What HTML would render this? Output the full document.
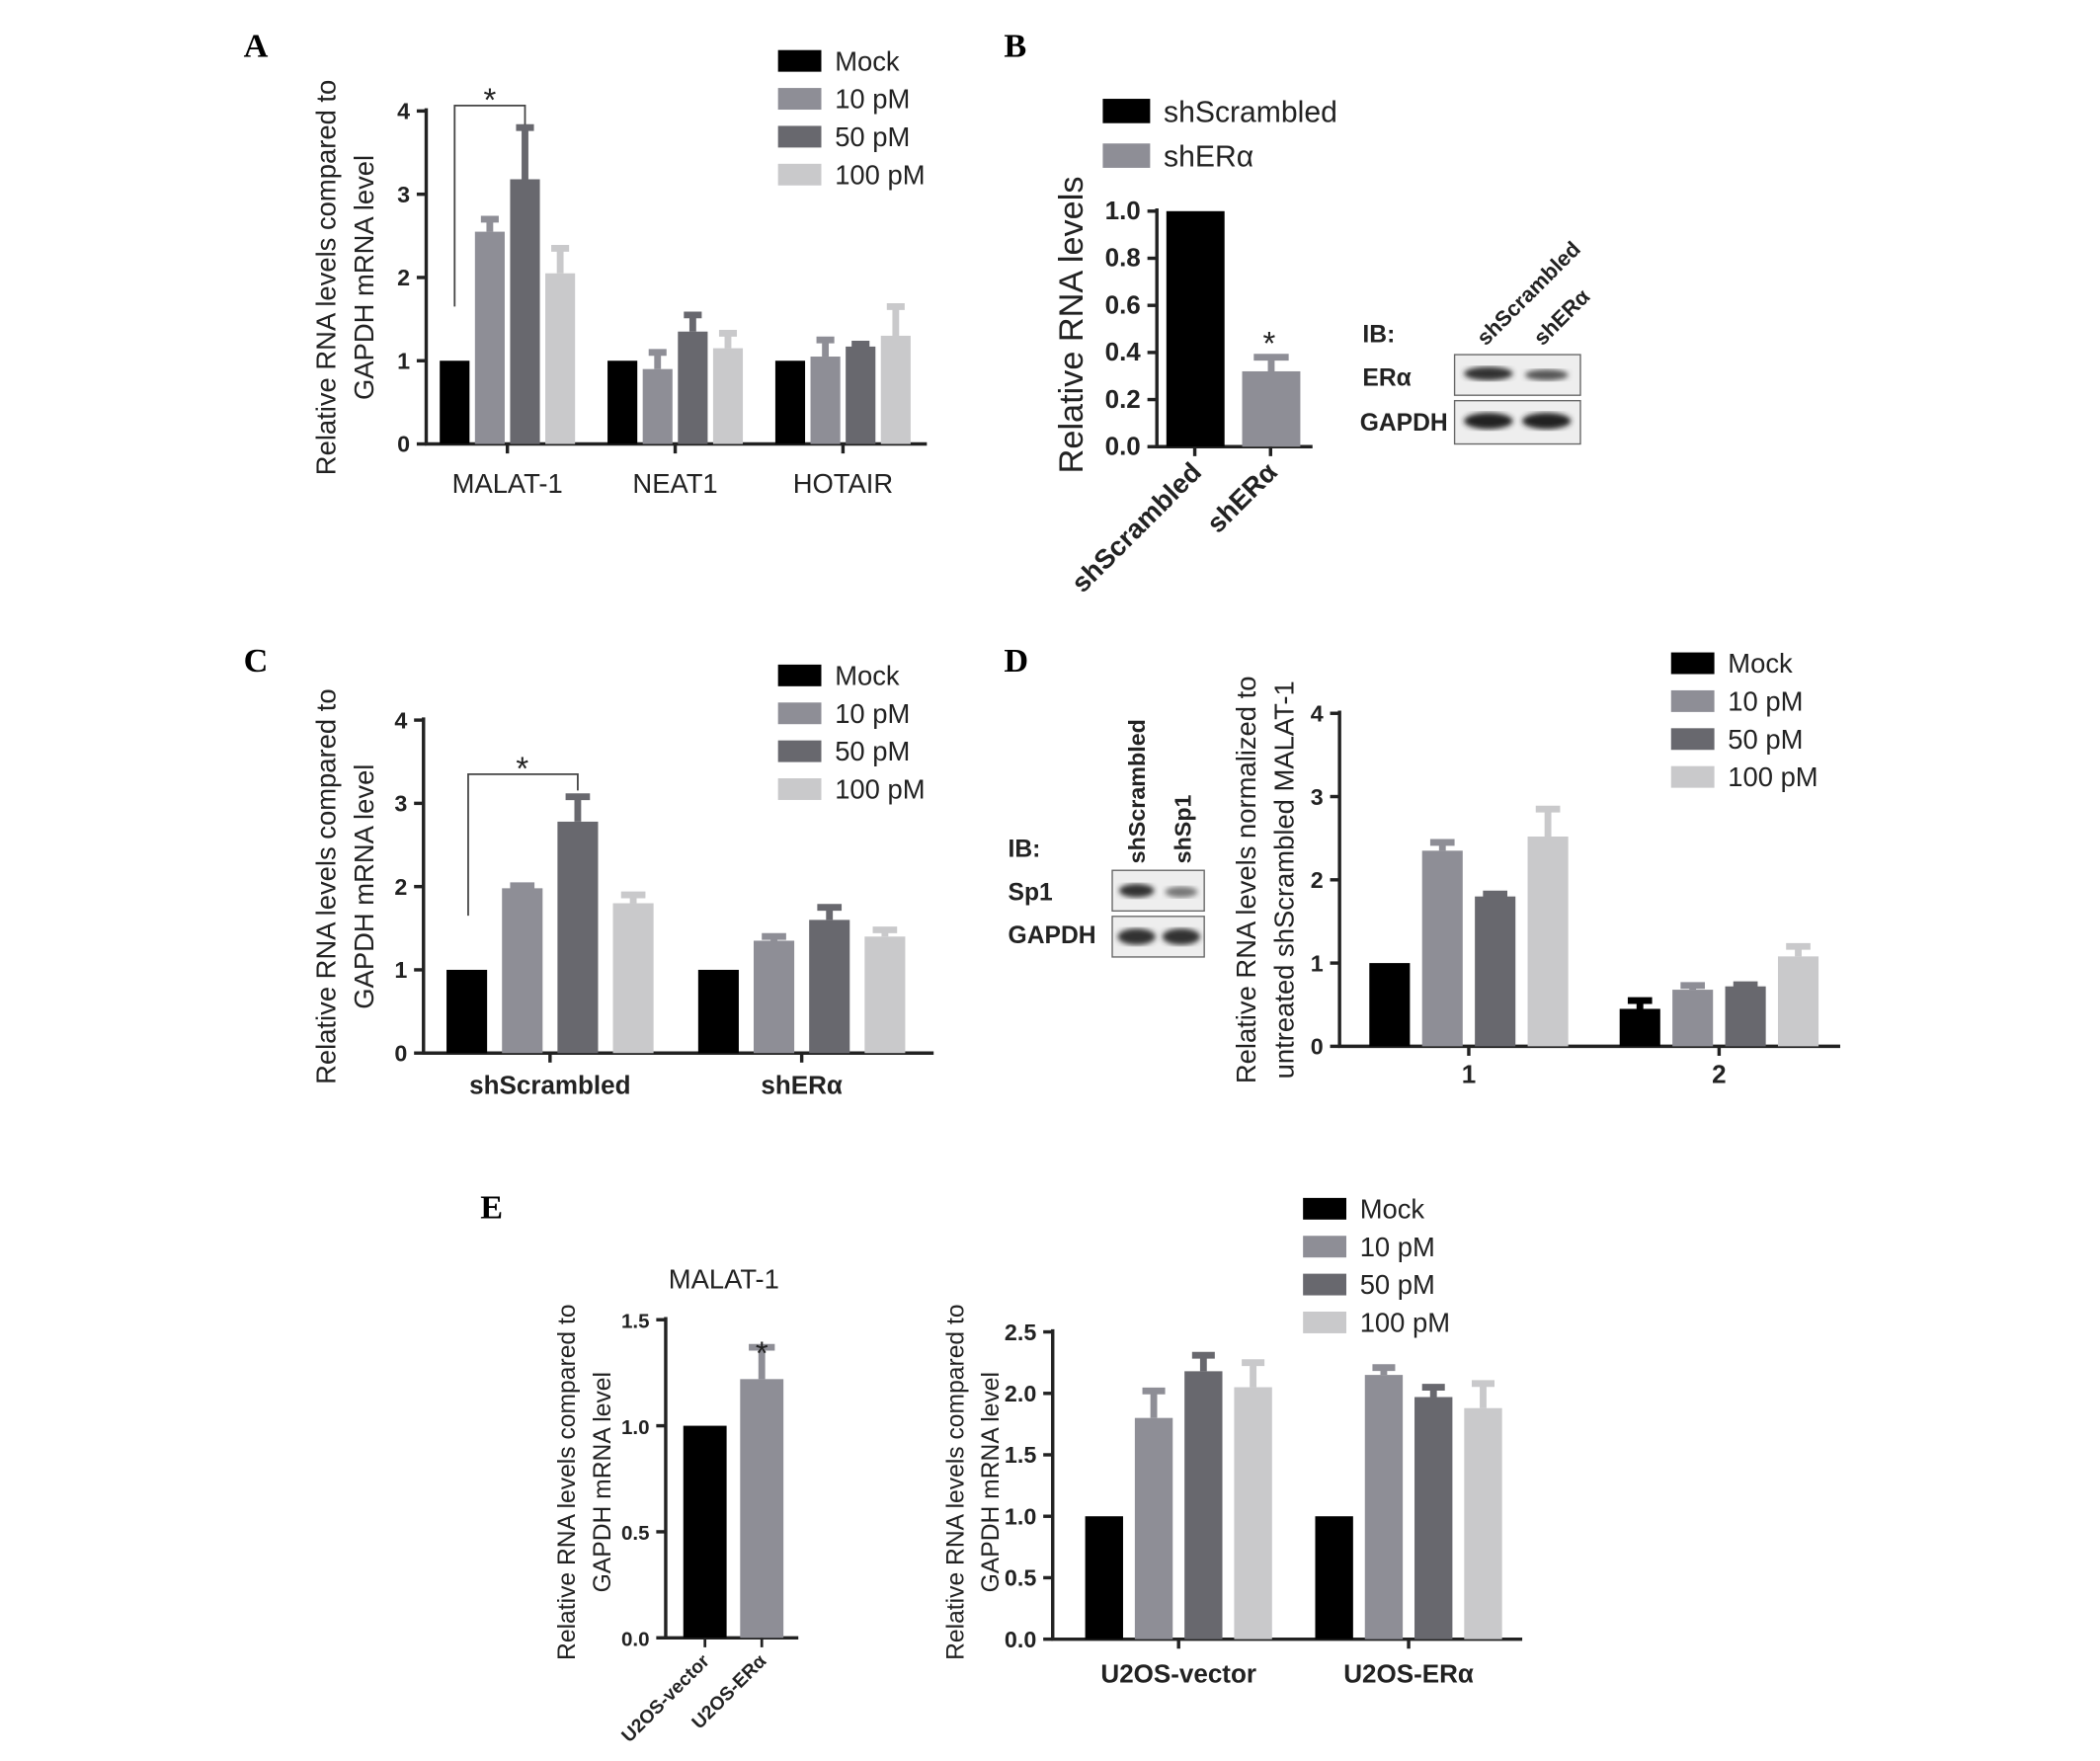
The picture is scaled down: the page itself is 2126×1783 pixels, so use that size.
<!DOCTYPE html>
<html><head><meta charset="utf-8">
<style>
html,body{margin:0;padding:0;background:#fff;}
svg{display:block;}
text{font-family:"Liberation Sans",sans-serif;fill:#222;}
.tick{font-size:17px;}
.pl{font-family:"Liberation Serif",serif;font-weight:bold;font-size:25px;fill:#000;}
</style></head>
<body>
<svg id="fig" width="2126" height="1783" viewBox="0 0 1552 1301" preserveAspectRatio="none" xmlns="http://www.w3.org/2000/svg">
<defs><filter id="blur"><feGaussianBlur stdDeviation="2"/></filter></defs>
<text class="pl" x="180" y="42">A</text>
<text class="pl" x="742" y="42">B</text>
<text class="pl" x="180" y="496">C</text>
<text class="pl" x="742" y="496">D</text>
<text class="pl" x="355" y="900">E</text>
</svg>
<script>
// ---------- data ----------
const seriesNames = ["Mock","10 pM","50 pM","100 pM"];
const aCategories = ["MALAT-1","NEAT1","HOTAIR"];
const aValues = [[1,2.55,3.18,2.05],[1,0.9,1.35,1.15],[1,1.05,1.17,1.3]];
const aErrors = [[0,0.15,0.62,0.3],[0,0.2,0.2,0.18],[0,0.2,0.03,0.35]];
const aTicks = ["0","1","2","3","4"];
const bCategories = ["shScrambled","shERα"];
const bValues = [1,0.32];
const bErrors = [0,0.06];
const bTicks = ["0.0","0.2","0.4","0.6","0.8","1.0"];
const cCategories = ["shScrambled","shERα"];
const cValues = [[1,1.98,2.78,1.8],[1,1.35,1.6,1.4]];
const cErrors = [[0,0.03,0.3,0.1],[0,0.05,0.15,0.08]];
const dCategories = ["1","2"];
const dValues = [[1,2.35,1.8,2.52],[0.45,0.68,0.72,1.08]];
const dErrors = [[0,0.1,0.03,0.33],[0.1,0.05,0.02,0.12]];
const eLeftCategories = ["U2OS-vector","U2OS-ERα"];
const eLeftValues = [1,1.22];
const eLeftErrors = [0,0.15];
const eLeftTicks = ["0.0","0.5","1.0","1.5"];
const eCategories = ["U2OS-vector","U2OS-ERα"];
const eValues = [[1,1.8,2.18,2.05],[1,2.15,1.97,1.88]];
const eErrors = [[0,0.22,0.13,0.2],[0,0.06,0.08,0.2]];
const eTicks = ["0.0","0.5","1.0","1.5","2.0","2.5"];

const colors = ["#000000","#8e8e96","#68686e","#c9c9cb"];
const svg = document.getElementById('fig');
const NS = "http://www.w3.org/2000/svg";
function mk(tag, attrs, parent){const e=document.createElementNS(NS,tag);for(const k in attrs)e.setAttribute(k,attrs[k]);(parent||svg).appendChild(e);return e;}
function txt(s, attrs, parent){const e=mk('text',attrs,parent);e.textContent=s;return e;}

function axes(name, x0, y0, yTop, xEnd, max, ticks, fs){
  const g=mk('g',{});
  
  
  const sy=v=>y0-(v/max)*(y0-yTop);
  mk('line',{x1:x0,y1:y0+1,x2:x0,y2:yTop-2,stroke:'#222','stroke-width':2.5},g);
  mk('line',{x1:x0-1,y1:y0,x2:xEnd,y2:y0,stroke:'#222','stroke-width':2.5},g);
  ticks.forEach((t,i)=>{const v=max*i/(ticks.length-1);const y=sy(v);
    mk('line',{x1:x0-7,y1:y,x2:x0,y2:y,stroke:'#222','stroke-width':2.5},g);
    const tt=txt(t,{x:x0-12,y:y+6,'text-anchor':'end','font-size':fs||17,'font-weight':'bold'},g);
    
    
  });
  return sy;
}
function bar(name,x,w,y0,sy,v,err,col){
  const r=mk('rect',{x:x,y:sy(v),width:w,height:y0-sy(v),fill:col});
  
  
  if(err>0){const cx=x+w/2;const top=sy(v+err);
    const e=mk('path',{d:`M${cx} ${sy(v)}V${top}M${cx-w*0.3} ${top}H${cx+w*0.3}`,stroke:col==='#000000'?'#000':col,'stroke-width':5,fill:'none'});
    
    }
}
function legend(name,x,y,step,fs,w,h,names,cols){
  names.forEach((n,i)=>{
    const g=mk('g',{});
    
    
    mk('rect',{x:x,y:y+i*step,width:w,height:h,fill:cols[i]},g);
    txt(n,{x:x+w+10,y:y+i*step+h-1,'font-size':fs},g);
  });
}
function ylabel(name,lines,x,y,fs){
  lines.forEach((l,i)=>{const t=txt(l,{x:x+i*(fs+8),y:y,'text-anchor':'middle','font-size':fs,transform:`rotate(-90 ${x+i*(fs+8)} ${y})`});
    
    });
}
function grouped(name,x0,y0,yTop,xEnd,max,ticks,cats,vals,errs,starts,w,step,labelY,bold){
  const sy=axes(name,x0,y0,yTop,xEnd,max,ticks);
  cats.forEach((c,gi)=>{
    vals[gi].forEach((v,si)=>bar(name+'-bar-'+gi+'-'+si,starts[gi]+si*step,w,y0,sy,v,errs[gi][si],colors[si]));
    const cx=starts[gi]+(3*step+w)/2;
    mk('line',{x1:cx,y1:y0,x2:cx,y2:y0+7,stroke:'#222','stroke-width':2.5});
    const t=txt(c,{x:cx,y:labelY,'text-anchor':'middle','font-size':bold?19:20,'font-weight':bold?'bold':'normal'});
    
    
  });
  return sy;
}

// Panel A
const syA=grouped('panel-a',315,328,82,685,4,aTicks,aCategories,aValues,aErrors,[325,449,573],22,26,364,false);
ylabel('panel-a',["Relative RNA levels compared to","GAPDH mRNA level"],248,205,20);
mk('path',{d:`M336 ${syA(1)-40}V78H388V92`,stroke:'#444','stroke-width':1.3,fill:'none'});
txt('*',{x:362,y:82,'text-anchor':'middle','font-size':24});
legend('panel-a-legend',575,37,28,20,32,16,seriesNames,colors);

// Panel B
const syB=axes('panel-b',855,330,156,970,1,bTicks,19);
bCategories.forEach((c,i)=>{const x=862+i*56;bar('panel-b-bar-'+i,x,43,330,syB,bValues[i],bErrors[i],colors[i]);
  const cx=x+21;mk('line',{x1:cx,y1:330,x2:cx,y2:337,stroke:'#222','stroke-width':2.5});
  const t=txt(c,{x:cx+6,y:350,'text-anchor':'end','font-size':20,'font-weight':'bold',transform:`rotate(-45 ${cx+6} 350)`});
  });
txt('*',{x:938,y:262,'text-anchor':'middle','font-size':24});
ylabel('panel-b',["Relative RNA levels"],800,240,25);
legend('panel-b-legend',815,73,33,22,35,18,["shScrambled","shERα"],colors);
// blot B
txt('IB:',{x:1007,y:253,'font-size':18,'font-weight':'bold'});
txt('ERα',{x:1007,y:285,'font-size':18,'font-weight':'bold'});
txt('GAPDH',{x:1005,y:318,'font-size':18,'font-weight':'bold'});
mk('rect',{x:1075,y:262,width:93,height:30,fill:'#eee',stroke:'#666'});
mk('rect',{x:1075,y:296,width:93,height:32,fill:'#eee',stroke:'#666'});
mk('ellipse',{cx:1100,cy:276,rx:18,ry:5,fill:'#333',filter:'url(#blur)'});
mk('ellipse',{cx:1143,cy:277,rx:16,ry:4,fill:'#555',filter:'url(#blur)'});
mk('ellipse',{cx:1100,cy:311,rx:18,ry:6,fill:'#222',filter:'url(#blur)'});
mk('ellipse',{cx:1143,cy:311,rx:18,ry:6,fill:'#222',filter:'url(#blur)'});
txt('shScrambled',{x:1098,y:256,'font-size':16,'font-weight':'bold',transform:'rotate(-45 1098 256)'});
txt('shERα',{x:1140,y:256,'font-size':16,'font-weight':'bold',transform:'rotate(-45 1140 256)'});

// Panel C
const syC=grouped('panel-c',313,778,532,690,4,aTicks,cCategories,cValues,cErrors,[330,516],30,41,808,true);
ylabel('panel-c',["Relative RNA levels compared to","GAPDH mRNA level"],248,655,20);
mk('path',{d:`M346 ${syC(1)-40}V572H427V584`,stroke:'#444','stroke-width':1.3,fill:'none'});
txt('*',{x:386,y:576,'text-anchor':'middle','font-size':24});
legend('panel-c-legend',575,491,28,20,32,16,seriesNames,colors);

// Panel D
grouped('panel-d',990,773,527,1360,4,aTicks,dCategories,dValues,dErrors,[1012,1197],30,39,800,true);
ylabel('panel-d',["Relative RNA levels normalized to","untreated shScrambled MALAT-1"],928,650,20);
legend('panel-d-legend',1235,482,28,20,32,16,seriesNames,colors);
txt('IB:',{x:745,y:633,'font-size':18,'font-weight':'bold'});
txt('Sp1',{x:745,y:665,'font-size':18,'font-weight':'bold'});
txt('GAPDH',{x:745,y:697,'font-size':18,'font-weight':'bold'});
mk('rect',{x:822,y:643,width:68,height:30,fill:'#eee',stroke:'#666'});
mk('rect',{x:822,y:677,width:68,height:30,fill:'#eee',stroke:'#666'});
mk('ellipse',{cx:840,cy:658,rx:13,ry:5,fill:'#333',filter:'url(#blur)'});
mk('ellipse',{cx:873,cy:659,rx:12,ry:4,fill:'#777',filter:'url(#blur)'});
mk('ellipse',{cx:840,cy:692,rx:14,ry:6,fill:'#333',filter:'url(#blur)'});
mk('ellipse',{cx:873,cy:692,rx:14,ry:6,fill:'#333',filter:'url(#blur)'});
txt('shScrambled',{x:846,y:638,'font-size':17,'font-weight':'bold',transform:'rotate(-90 846 638)'});
txt('shSp1',{x:880,y:638,'font-size':17,'font-weight':'bold',transform:'rotate(-90 880 638)'});

// Panel E left
const syEL=axes('panel-e-left',492,1210,975,590,1.5,eLeftTicks,15);
eLeftCategories.forEach((c,i)=>{const x=505+i*42;bar('panel-e-left-bar-'+i,x,32,1210,syEL,eLeftValues[i],eLeftErrors[i],colors[i]);
  const cx=x+16;mk('line',{x1:cx,y1:1210,x2:cx,y2:1217,stroke:'#222','stroke-width':2});
  const t=txt(c,{x:cx+4,y:1228,'text-anchor':'end','font-size':14,'font-weight':'bold',transform:`rotate(-45 ${cx+4} 1228)`});
  });
txt('*',{x:563,y:1008,'text-anchor':'middle','font-size':24});
txt('MALAT-1',{x:535,y:952,'text-anchor':'middle','font-size':20});
ylabel('panel-e-left',["Relative RNA levels compared to","GAPDH mRNA level"],425,1095,18);

// Panel E right
grouped('panel-e-right',778,1211,984,1125,2.5,eTicks,eCategories,eValues,eErrors,[802,972],28,36.7,1243,true);
ylabel('panel-e-right',["Relative RNA levels compared to","GAPDH mRNA level"],712,1095,18);
legend('panel-e-legend',963,885,28,20,32,16,seriesNames,colors);
</script>
</body></html>
